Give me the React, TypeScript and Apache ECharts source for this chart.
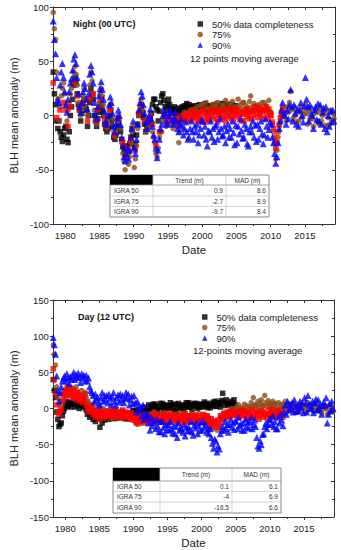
import React, { useEffect, useRef } from "react";
import * as echarts from "echarts";

// bimonthly sampling starting 1978.25
const START = 1978.25;
const STEP = 1 / 6;
const xMajor = [1980, 1985, 1990, 1995, 2000, 2005, 2010, 2015];
const xMinor = [1982.5, 1987.5, 1992.5, 1997.5, 2002.5, 2007.5, 2012.5, 2017.5];
const xTop = [1980, 1982.5, 1985, 1987.5, 1990, 1992.5, 1995, 1997.5, 2000, 2002.5, 2005, 2007.5, 2010, 2012.5, 2015, 2017.5];

const seriesNames = ["50% data completeness", "75%", "90%"];
const seriesIcons = ["rect", "circle", "triangle"];

// ---------- Night (00 UTC) ----------
const night50 = [40, 20, 10, -5, -12,
  -5, -15, -20, -24, -18, -12,
  -10, -22, -25, -15, 0, 8,
  15, 28, 35, 30, 20, 10,
  5, -5, 2, 10, 15, 8,
  5, -10, 0, 12, 25, 20,
  15, 0, -5, -10, -3, 3,
  5, 10, 5, 0, -8, -12,
  -15, -12, -3, 0, -5, -10,
  -20, -22, -18, -12, -8, -12,
  -15, -22, -28, -32, -35, -30,
  -28, -33, -26, -20, -12, -18,
  -30, -26, -18, -8, 0, 3,
  5, 2, -2, -8, -15, -12,
  -10, -8, -3, 2, 10, 15,
  15, 8, 5, -5, 4, 12,
  18, 20, 14, 8, 5, 10,
  15, 10, 6, 5, 2, 8,
  6, 0, 3, 7, 2, 5,
  8, 5, 9, 7, 11, 6,
  10, 6, 8, 4, 9, 7,
  7, 9, 6, 10, 5, 8,
  5, 8, 11, 6, 9, 4,
  9, 7, 4, 8, 10, 6,
  10, 6, 9, 7, 5, 11,
  8, 11, 5, 9, 7, 10,
  7, 4, 10, 8, 6, 9];
const nightRed = [30, null, null, -2, null,
  null, 5, null, null, 12, null,
  5, null, -10, null, 8, null,
  null, 30, null, null, 18, null,
  5, null, null, 12, null, null,
  null, -5, null, 15, null, null,
  20, null, null, -5, null, 6,
  null, 15, null, null, -3, null,
  -10, null, null, 5, null, null,
  null, -18, null, null, -3, null,
  null, null, -25, null, -38, null,
  -30, null, null, -22, null, null,
  null, -32, null, null, 2, null,
  10, null, null, -5, null, null,
  null, -3, null, null, -8, null,
  null, -28, null, null, -15, null,
  null, null, 2, null, null, -7,
  -2, null, null, -4, null, null,
  -4, 0, -6, -8, -5, -2,
  -3, 0, -2, -5, 1, -4,
  0, 3, -4, -2, 4, -1,
  2, -5, 0, -3, 3, -6,
  5, -2, -6, 3, 0, -4,
  -4, 2, 6, -1, 4, -3,
  3, -6, 1, 5, -2, 2,
  -2, 4, -5, 0, 6, -1,
  6, -3, 2, -4, 1, 5,
  0, 5, -2, 3, -5, 1,
  -5, 2, 6, -1, 3, -3,
  4, -3, 0, 5, 8, 2,
  -2, 7, 3, 0, 5, -3,
  5, 8, 2, -3, 6, 0,
  0, -6, -12, -20, -30, -25,
  -15, -8, -2, 3, 6, 0];
const night75 = [95, 80, 70, 40, 15,
  -5, 8, 18, 25, 30, 20,
  10, -5, 5, 12, 20, 25,
  30, 40, 45, 38, 28, 12,
  5, 0, 8, 18, 25, 15,
  8, 0, 15, 28, 40, 32,
  20, 5, -5, -8, 5, 12,
  20, 25, 18, 10, 0, -8,
  -12, -5, 5, 10, 6, -3,
  -15, -20, -12, -5, 0, -5,
  -12, -25, -35, -42, -50, -40,
  -35, -45, -38, -25, -15, -10,
  -48, -40, -28, -12, 0, 8,
  15, 10, 4, -5, -15, -12,
  -10, -5, 0, -8, -15, -20,
  -25, -35, -38, -30, -20, -15,
  -15, -5, 0, -3, -10, -8,
  -5, 0, -3, -8, -12, -4,
  -8, -2, -10, -25, -15, -5,
  -5, 0, 3, -2, -5, 2,
  2, 5, -3, 0, 6, 3,
  5, 8, 0, 3, 9, 4,
  10, 2, 5, 12, 7, 1,
  0, 6, 10, 3, 8, 11,
  8, 12, 4, 0, 6, 9,
  10, 5, 14, 7, 3, 11,
  2, 9, 13, 5, 8, 4,
  8, 15, 3, 10, 6, 12,
  12, 5, 9, 2, 7, 13,
  18, 8, 4, 11, 6, 9,
  6, 10, 2, 8, 12, 5,
  12, 4, 9, 6, 14, 3,
  3, -8, -15, -25, -40, -32,
  -20, -10, -5, 0, 8, 3,
  2, -5, 8, 3, 12, 22,
  5, -3, 8, 0, -6, 4,
  -5, 3, 8, -2, 5, 1,
  10, 2, -8, 5, -3, 7,
  -3, -10, 2, 5, -5, 3,
  -8, 6, -5, 0, 4, -9,
  3, -10, -2, -8, 5, -4,
  2, -3];
const night90 = [87, 70, 57, 35, 15,
  12, 28, 40, 48, 35, 22,
  10, 3, 15, 22, 30, 34,
  42, 52, 56, 48, 35, 20,
  8, 3, 12, 22, 30, 25,
  15, 6, 20, 38, 46, 40,
  30, 12, 2, -3, 8, 18,
  25, 31, 24, 15, 4, -5,
  -8, 0, 10, 17, 12, 2,
  -10, -15, -8, -2, 5, 0,
  -8, -20, -28, -38, -42, -35,
  -30, -40, -32, -20, -12, -5,
  -30, -35, -22, -8, 5, 12,
  22, 18, 10, 2, -6, -12,
  -5, 0, 6, -3, -10, -18,
  -22, -30, -39, -32, -22, -12,
  -8, 0, 5, 2, -5, -8,
  0, 5, 3, -4, -8, -2,
  3, -5, -12, -15, -8, -3,
  -10, -18, -12, -6, -15, -22,
  -20, -12, -5, -15, -22, -10,
  -15, -8, -25, -18, -12, -4,
  -5, -18, -10, -22, -28, -14,
  -15, -5, -20, -12, -24, -10,
  -8, -22, -15, -3, -12, -19,
  -18, -10, -25, -14, -8, -20,
  -12, -20, -5, -16, -27, -9,
  -25, -10, -17, -3, -14, -21,
  -20, -8, -12, -26, -28, -15,
  -10, -15, -5, -20, -9, -24,
  -8, -22, -12, -5, -17, -26,
  -18, -3, -10, -20, -13, -6,
  -8, -20, -25, -35, -44, -38,
  -25, -12, -5, 5, 12, 2,
  0, -8, 5, -3, 10, 24,
  8, -5, 10, 2, -8, 6,
  -10, 5, 12, 0, -6, 9,
  35, 15, 8, -5, 10, 2,
  0, -12, 5, 8, -4, 11,
  -5, 10, -8, 3, 7, -12,
  8, -15, 0, -10, 4, -6,
  5, -5];

// ---------- Day (12 UTC) ----------
const day50 = [40, 25, 15, -5, -15,
  -25, -22, -20, -10, -4, 0,
  5, 10, 3, 8, 2, 6,
  6, 11, 2, 7, 4, 9,
  0, 5, 9, 3, 7, 1,
  -2, -8, -5, -12, -4, -9,
  -15, -10, -18, -8, -13, -6,
  -26, -14, -20, -10, -16, -12,
  -12, -6, -15, -9, -4, -11,
  -10, -14, -5, -11, -7, -13,
  -8, -12, -4, -9, -14, -6,
  -14, -6, -10, -13, -8, -3,
  -5, -9, -2, -7, -11, -4,
  -4, 0, -6, 2, -3, -8,
  -3, 5, -1, 3, 0, 6,
  6, 0, 4, -3, 2, 7,
  2, 7, -2, 5, 1, 4,
  0, 4, 8, 1, 5, -2,
  6, -4, 3, 7, 0, 4,
  1, 5, -2, 4, 8, 2,
  8, 2, 6, -1, 4, 7,
  3, 7, 0, 5, 2, 6,
  2, 6, 9, 3, 7, 1,
  5, 1, 7, 4, 9, 3,
  10, 3, 8, 6, 2, 11,
  21, 9, 4, 12, 7, 5,
  6, 10, 3, 8, 12, 5];
const dayRed = [55, 40, 20, 5, -5,
  -8, -4, 0, 10, 15, 20,
  25, 18, 30, 22, 27, 19,
  15, 25, 20, 12, 22, 17,
  18, 10, 15, 8, 13, 20,
  5, 0, -5, 2, -3, 4,
  -8, -3, -12, -6, -10, -2,
  -15, -8, -5, -10, -13, -6,
  -4, -9, -12, -7, -3, -10,
  -10, -3, -8, -13, -6, -11,
  -6, -11, -2, -8, -12, -5,
  -12, -7, -15, -10, -6, -13,
  -16, -10, -20, -14, -18, -11,
  -18, -12, -8, -15, -20, -10,
  -10, -16, -12, -20, -14, -8,
  -15, -8, -18, -12, -16, -10,
  -9, -16, -11, -19, -13, -7,
  -14, -10, -17, -8, -12, -15,
  -12, -18, -9, -15, -20, -11,
  -11, -16, -13, -7, -18, -14,
  -17, -10, -14, -18, -9, -12,
  -9, -13, -16, -11, -15, -19,
  -15, -8, -12, -17, -10, -14,
  -19, -22, -14, -25, -20, -17,
  -20, -26, -16, -22, -10, -14,
  -12, -7, -14, -9, -11, -5,
  -5, -11, -8, -3, -9, -6,
  -9, -4, -12, -6, -10, -2,
  -10, -3, -8, -14, -6, -11,
  -6, -12, -2, -9, -13, -5,
  -11, -5, -15, -8, -3, -12,
  -4, -10, -7, -13, -9, -2,
  -8, -2, -12, -6, -11, -4,
  -9, -4, -11, -3, -7, -12];
const day75 = [88, 75, 60, 30, 15,
  -5, 5, 10, 20, 25, 18,
  22, 30, 18, 25, 28, 20,
  28, 15, 22, 30, 24, 18,
  20, 12, 25, 18, 14, 22,
  15, 8, 10, 0, 5, -2,
  -5, 2, -8, -3, -6, 0,
  -10, -5, -12, 0, -7, -3,
  -8, -3, -10, -5, -1, -7,
  -12, -6, -2, -10, -4, -8,
  -5, -8, -14, -4, -10, -6,
  -10, -6, -12, -15, -9, -13,
  -8, -18, -12, -22, -16, -10,
  -21, -15, -10, -18, -13, -8,
  -12, -8, -15, -10, -17, -6,
  -5, -12, -8, -14, -10, -16,
  -18, -10, -15, -6, -13, -9,
  -12, -20, -9, -16, -11, -14,
  -8, -14, -18, -11, -6, -15,
  -15, -7, -20, -12, -9, -17,
  -10, -17, -8, -13, -19, -11,
  -19, -11, -15, -7, -13, -16,
  -14, -9, -18, -12, -20, -10,
  -20, -25, -15, -28, -22, -18,
  -18, -30, -22, -26, -12, -16,
  -8, -14, -5, -10, -12, -6,
  -3, -8, 0, -6, -2, -9,
  2, -4, 5, -2, 1, -6,
  0, 6, -3, 4, -5, 2,
  -1, 8, 3, 15, 5, 0,
  5, 10, 2, 7, 12, 4,
  4, 18, 8, 3, 11, 6,
  6, 1, 10, 4, 7, -1,
  2, 8, -2, 5, 0, 6,
  0, 10, 3, -4, 6, 1,
  5, -2, 7, 1, -5, 4,
  -3, 4, 0, 6, -2, 3,
  2, -5, 3, 8, -1, 5,
  -2, 5, -4, 1, 6, -3,
  4, -3, 2, -6, 3, 0,
  0, 3, -8, -2, 4, -5,
  2, -4];
const day90 = [98, 88, 75, 45, 25,
  10, 22, 30, 38, 42, 45,
  38, 48, 42, 35, 44, 40,
  45, 50, 40, 47, 43, 49,
  44, 36, 48, 42, 46, 38,
  46, 38, 42, 30, 25, 22,
  18, 10, 20, 12, 16, 8,
  5, 15, 22, 10, 18, 12,
  18, 8, 20, 14, 6, 16,
  22, 10, 5, 15, 19, 9,
  20, 12, 18, 8, 14, 22,
  15, 20, 5, 12, 17, 7,
  18, 8, -5, 10, 4, -2,
  2, -10, 5, -15, -6, -12,
  -8, -20, -30, -12, -24, -16,
  -20, -28, -15, -25, -32, -18,
  -32, -18, -26, -35, -22, -29,
  -22, -30, -18, -28, -34, -24,
  -35, -25, -40, -20, -30, -27,
  -28, -33, -22, -38, -26, -31,
  -25, -30, -18, -32, -37, -23,
  -27, -20, -35, -24, -30, -19,
  -30, -18, -26, -22, -33, -28,
  -35, -28, -40, -48, -55, -42,
  -45, -60, -52, -56, -35, -30,
  -25, -30, -18, -28, -22, -33,
  -22, -15, -26, -20, -29, -17,
  -18, -28, -12, -24, -21, -30,
  -20, -30, -15, -25, -19, -27,
  -18, -12, -28, -22, -16, -25,
  -40, -52, -55, -45, -50, -36,
  -35, -25, -20, -28, -22, -15,
  -15, -22, -10, -25, -18, -28,
  -28, -12, -20, -8, -16, -24,
  -5, 5, -8, 10, -2, 6,
  0, 8, -5, 12, 3, -4,
  5, -3, 10, 2, 8, -6,
  15, 8, -5, 18, 6, 0,
  3, 10, -6, 8, 13, -2,
  12, 0, 6, -8, 4, 9,
  5, 15, -20, -8, 7, -3,
  10, 0];

// ---------- tables ----------
const tableRows = ["IGRA 50", "IGRA 75", "IGRA 90"];
const tableHeaders = ["Trend (m)", "MAD (m)"];
const nightTrend = ["0.9", "-2.7", "-9.7"];
const nightMAD = ["8.6", "8.9", "8.4"];
const dayTrend = ["0.1", "-4", "-16.5"];
const dayMAD = ["6.1", "6.9", "6.6"];

const FONT = "Liberation Sans, Arial, sans-serif";

function toPoints(vals: (number | null)[]) {
  return vals.map((v, i) => [START + i * STEP, v == null ? "-" : v]);
}

function makeTable(cols: number[], rows: number[], trend: string[], mad: string[]) {
  const els: any[] = [];
  const w = cols[3] - cols[0];
  const h = rows[4] - rows[0];
  els.push({ type: "rect", z: 100, shape: { x: cols[0], y: rows[0], width: w, height: h }, style: { fill: "#fff", stroke: "#8a8a8a", lineWidth: 1 } });
  els.push({ type: "rect", z: 101, shape: { x: cols[0], y: rows[0], width: cols[1] - cols[0], height: rows[1] - rows[0] }, style: { fill: "#000" } });
  for (let r = 1; r < 4; r++) {
    els.push({ type: "line", z: 101, shape: { x1: cols[0], y1: rows[r], x2: cols[3], y2: rows[r] }, style: { stroke: r === 1 ? "#8a8a8a" : "#c8c8c8", lineWidth: 0.8 } });
  }
  for (let c = 1; c < 3; c++) {
    els.push({ type: "line", z: 101, shape: { x1: cols[c], y1: rows[0], x2: cols[c], y2: rows[4] }, style: { stroke: "#c8c8c8", lineWidth: 0.8 } });
  }
  const ts = { fontSize: 6.5, fontFamily: FONT, fill: "#333", verticalAlign: "middle" };
  tableHeaders.forEach((t, i) => {
    els.push({ type: "text", z: 102, x: (cols[i + 1] + cols[i + 2]) / 2, y: (rows[0] + rows[1]) / 2, style: { ...ts, text: t, align: "center" } });
  });
  tableRows.forEach((t, i) => {
    const yc = (rows[i + 1] + rows[i + 2]) / 2;
    els.push({ type: "text", z: 102, x: cols[0] + 4, y: yc, style: { ...ts, text: t, align: "left" } });
    els.push({ type: "text", z: 102, x: cols[2] - 3, y: yc, style: { ...ts, text: trend[i], align: "right" } });
    els.push({ type: "text", z: 102, x: cols[3] - 3, y: yc, style: { ...ts, text: mad[i], align: "right" } });
  });
  return els;
}

function xAxes(gridIndex: number) {
  const base = { type: "value", gridIndex, min: 1978.2, max: 2019.4, splitLine: { show: false } };
  return [
    {
      ...base, position: "bottom",
      axisLine: { show: true, onZero: false, lineStyle: { color: "#333", width: 1 } },
      axisTick: { show: true, length: 3, customValues: xMajor, lineStyle: { color: "#333" } },
      axisLabel: { show: true, customValues: xMajor, formatter: (v: number) => String(v), fontSize: 9.5, fontFamily: FONT, color: "#222", margin: 6 },
      name: "Date", nameLocation: "middle", nameGap: 20,
      nameTextStyle: { fontSize: 11.5, fontFamily: FONT, color: "#222" },
    },
    {
      ...base, position: "bottom",
      axisLine: { show: false, onZero: false },
      axisTick: { show: true, length: 2, customValues: xMinor, lineStyle: { color: "#333" } },
      axisLabel: { show: false },
    },
    {
      ...base, position: "top",
      axisLine: { show: true, onZero: false, lineStyle: { color: "#333", width: 1 } },
      axisTick: { show: true, inside: true, length: 3, customValues: xTop, lineStyle: { color: "#333" } },
      axisLabel: { show: false },
    },
  ];
}

function yAxes(gridIndex: number, min: number, max: number) {
  return [
    {
      type: "value", gridIndex, min, max, interval: 50, position: "left",
      splitLine: { show: false },
      axisLine: { show: true, onZero: false, lineStyle: { color: "#333", width: 1 } },
      axisTick: { show: true, length: 3, lineStyle: { color: "#333" } },
      minorTick: { show: true, splitNumber: 2, length: 2, lineStyle: { color: "#333" } },
      axisLabel: { fontSize: 9.5, fontFamily: FONT, color: "#222", margin: 4 },
      name: "BLH mean anomaly (m)", nameLocation: "middle", nameGap: 28,
      nameTextStyle: { fontSize: 11, fontFamily: FONT, color: "#222" },
    },
    {
      type: "value", gridIndex, min, max, interval: 50, position: "right",
      splitLine: { show: false },
      axisLine: { show: true, onZero: false, lineStyle: { color: "#333", width: 1 } },
      axisTick: { show: true, inside: true, length: 3, lineStyle: { color: "#333" } },
      minorTick: { show: true, splitNumber: 2, length: 2, lineStyle: { color: "#333" } },
      axisLabel: { show: false },
    },
  ];
}

function scatterSet(xIdx: number, yIdx: number, s50: number[], sRed: (number | null)[], s75: number[], s90: number[]) {
  const common = { type: "scatter", xAxisIndex: xIdx, yAxisIndex: yIdx, silent: true };
  return [
    { ...common, name: seriesNames[0], symbol: "rect", symbolSize: 5.5, itemStyle: { color: "#000" }, data: toPoints(s50) },
    { ...common, name: seriesNames[1], symbol: "circle", symbolSize: 5.5, itemStyle: { color: "#8a4b16" }, data: toPoints(s75) },
    { ...common, name: "moving average", symbol: "rect", symbolSize: 5.5, itemStyle: { color: "#f00" }, data: toPoints(sRed) },
    { ...common, name: seriesNames[2], symbol: "triangle", symbolSize: 7, itemStyle: { color: "#0000ff" }, data: toPoints(s90) },
  ];
}

function legendAt(left: number, top: number, pad: number) {
  return {
    orient: "vertical", left, top, padding: 0, itemWidth: 5.5, itemHeight: 5.5, itemGap: 0,
    selectedMode: false,
    data: seriesNames.map((n, i) => ({ name: n, icon: seriesIcons[i] })),
    textStyle: { fontSize: 9.5, fontFamily: FONT, color: "#222", lineHeight: 10.5, padding: [0, 0, 0, pad] },
  };
}

export default function App() {
  const ref = useRef<HTMLDivElement>(null);
  useEffect(() => {
    document.body.style.margin = "0";
    const chart = echarts.init(ref.current!, null, { renderer: "svg" });
    const titleStyle = { fontSize: 9, fontWeight: "bold", fontFamily: FONT, fill: "#111", verticalAlign: "middle" };
    const noteStyle = { fontSize: 9.5, fontFamily: FONT, fill: "#222", verticalAlign: "middle" };
    chart.setOption({
      animation: false,
      backgroundColor: "#fff",
      grid: [
        { left: 44, right: 6, top: 7, height: 217 },
        { left: 44, right: 7, top: 300, height: 217 },
      ],
      xAxis: [...xAxes(0), ...xAxes(1)],
      yAxis: [...yAxes(0, -100, 100), ...yAxes(1, -150, 150)],
      legend: [legendAt(197.5, 18.75, 4), legendAt(202, 311.75, 4)],
      series: [
        ...scatterSet(0, 0, night50, nightRed, night75, night90),
        ...scatterSet(3, 2, day50, dayRed, day75, day90),
      ],
      graphic: [
        { type: "text", z: 100, x: 73, y: 24, style: { ...titleStyle, text: "Night (00 UTC)" } },
        { type: "text", z: 100, x: 190, y: 58, style: { ...noteStyle, text: "12 points moving average" } },
        { type: "text", z: 100, x: 78, y: 317, style: { ...titleStyle, text: "Day (12 UTC)" } },
        { type: "text", z: 100, x: 193, y: 350, style: { ...noteStyle, text: "12-points moving average" } },
        ...makeTable([110, 153, 226, 269], [175, 185, 196, 206.5, 217], nightTrend, nightMAD),
        ...makeTable([113, 160, 232, 281], [468, 481, 491.5, 502, 513], dayTrend, dayMAD),
      ],
    });
    return () => chart.dispose();
  }, []);
  return <div ref={ref} style={{ width: 341, height: 550 }} />;
}
